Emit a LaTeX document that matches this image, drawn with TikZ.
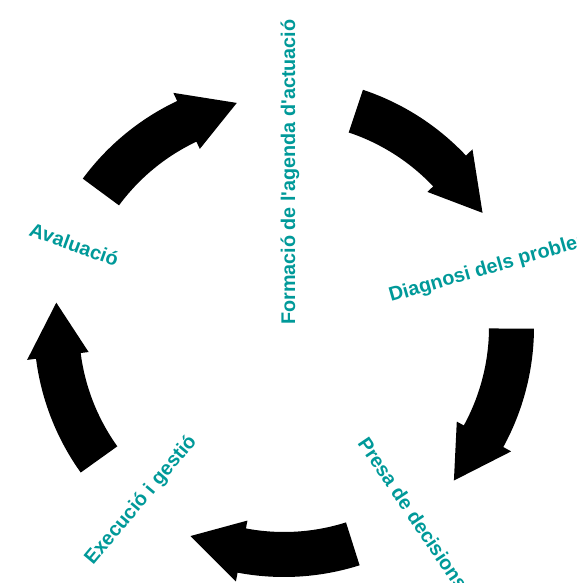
\documentclass[tikz,border=0pt]{standalone}
\usepackage{fontspec}
% no TeX ligature mapping, so the apostrophe stays straight
\newfontfamily\stagefont{Liberation Sans}
\definecolor{stagecol}{RGB}{0,153,153}
\tikzset{
  stagelabel/.style={inner sep=0pt, anchor=base west, text=stagecol,
    font=\stagefont\fontsize{19.8}{24}\selectfont\bfseries},
  cyclearrow/.style={fill=black, draw=none}
}
\begin{document}
\begin{tikzpicture}[x=1pt,y=1pt]
  \useasboundingbox (0,0) rectangle (577,-583);
  % five curved block arrows around the cycle centre
  \begin{scope}[shift={(284,-327)}]
    \foreach \t in {143.6,71.6,-0.4,-72.4,-144.4}{
      \pgfmathsetmacro{\b}{\t-28.3}
      \pgfmathsetmacro{\p}{\t-41.7}
      \fill[cyclearrow] (\t:250) arc[start angle=\t, end angle=\b, radius=250]
        -- (\b:259) -- (\p:229) -- (\b:197) -- (\b:205)
        arc[start angle=\b, end angle=\t, radius=205] -- cycle;
    }
  \end{scope}
  % stage labels, set along the radii between the arrows
  \node[stagelabel, rotate=90]  (agenda)    at (295,-325) {Formació de l'agenda d'actuació};
  \node[stagelabel, rotate=16]  (diagnosi)  at (391,-302) {Diagnosi dels problemes};
  \node[stagelabel, rotate=-56] (decisions) at (357,-443) {Presa de decisions};
  \node[stagelabel, rotate=50]  (gestio)    at (93,-566)  {Execució i gestió};
  \node[stagelabel, rotate=-20] (avaluacio) at (28,-235)  {Avaluació};
\end{tikzpicture}
\end{document}
